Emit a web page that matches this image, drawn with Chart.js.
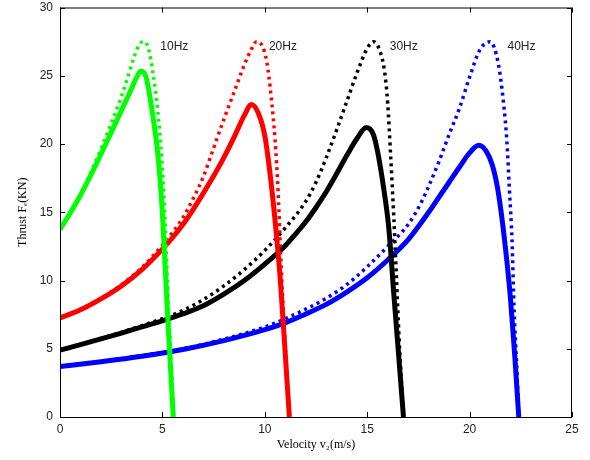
<!DOCTYPE html>
<html>
<head>
<meta charset="utf-8">
<script src="https://cdn.jsdelivr.net/npm/chart.js@4.4.1/dist/chart.umd.min.js"></script>
<style>
  html, body { margin: 0; padding: 0; background: #fff; }
</style>
</head>
<body>
<canvas id="thrust" width="590" height="460"></canvas>
<script>
// values (velocity m/s, thrust kN)
const x10 = [0, 0.5, 1, 1.5, 2, 2.5, 3, 3.4, 3.7, 3.95, 4.2, 4.48, 4.8, 5.0, 5.25, 5.53]
const y10 = [13.75, 14.95, 16.25, 17.7, 19.25, 20.85, 22.45, 23.75, 24.75, 25.35, 24.9, 22.6, 18.9, 14.9, 7.6, 0]
const x10d = [0, 0.5, 1, 1.5, 2, 2.5, 3, 3.3, 3.6, 3.85, 4.05, 4.3, 4.55, 4.76, 4.97, 5.1, 5.3, 5.55]
const y10d = [13.75, 15.0, 16.3, 17.9, 19.65, 21.5, 23.5, 24.85, 26.3, 27.2, 27.5, 27.1, 25.1, 22.6, 18.9, 15.3, 8.0, 0]

const x20 = [0, 1, 2, 3, 4, 5, 5.5, 6, 6.5, 7, 7.5, 8, 8.5, 9, 9.35, 9.7, 10, 10.25, 10.5, 10.75, 11.0, 11.2]
const y20 = [7.25, 7.85, 8.65, 9.6, 10.8, 12.3, 13.15, 14.1, 15.2, 16.4, 17.65, 19.0, 20.5, 22.1, 22.9, 22.2, 20.6, 17.9, 14.4, 10.2, 4.6, 0]
const x20d = [0, 1, 2, 3, 4, 5, 6, 6.5, 7, 7.5, 8, 8.5, 9, 9.3, 9.6, 9.9, 10.1, 10.3, 10.5, 10.65, 10.8, 11.0, 11.2]
const y20d = [7.25, 7.9, 8.7, 9.7, 10.95, 12.6, 14.6, 16.0, 17.6, 19.7, 21.8, 23.8, 25.8, 26.8, 27.5, 27.1, 26.0, 23.6, 20.3, 16.5, 11.0, 5.0, 0]

const x30 = [0, 1, 2, 3, 4, 5, 6, 7, 8, 9, 10, 11, 11.5, 12, 12.5, 13, 13.5, 14, 14.5, 14.95, 15.3, 15.5, 15.8, 16.05, 16.3, 16.5, 16.77]
const y30 = [4.9, 5.3, 5.72, 6.15, 6.6, 7.05, 7.55, 8.15, 9.0, 10.0, 11.2, 12.55, 13.4, 14.3, 15.35, 16.5, 17.8, 19.15, 20.4, 21.2, 20.7, 19.5, 16.8, 13.9, 9.0, 5.2, 0]
const x30d = [0, 2, 4, 6, 7, 8, 9, 10, 11, 12, 12.5, 13, 13.5, 14, 14.5, 15, 15.3, 15.6, 15.85, 16.0, 16.15, 16.3, 16.42, 16.55, 16.77]
const y30d = [4.9, 5.75, 6.7, 7.8, 8.6, 9.6, 10.8, 12.2, 13.85, 15.8, 17.2, 19.0, 21.0, 23.1, 25.2, 27.0, 27.5, 26.9, 25.3, 23.0, 19.0, 14.6, 10.5, 6.0, 0]

const x40 = [0, 2, 4, 6, 8, 10, 11, 12, 13, 14, 15, 16, 17, 18, 18.5, 19, 19.5, 20, 20.45, 20.8, 21.1, 21.35, 21.55, 21.75, 22.0, 22.2, 22.4]
const y40 = [3.7, 4.05, 4.45, 4.95, 5.6, 6.4, 6.9, 7.55, 8.25, 9.15, 10.2, 11.5, 13.0, 15.0, 16.1, 17.2, 18.3, 19.35, 19.9, 19.5, 18.5, 16.9, 14.9, 12.4, 8.6, 4.6, 0]
const x40d = [0, 2, 4, 6, 8, 10, 11, 12, 13, 14, 15, 16, 17, 17.6, 18, 18.5, 19, 19.5, 20, 20.5, 21.0, 21.4, 21.65, 21.82, 21.95, 22.07, 22.18, 22.3, 22.4]
const y40d = [3.7, 4.05, 4.5, 5.0, 5.7, 6.6, 7.2, 7.9, 8.7, 9.7, 11.0, 12.5, 14.1, 15.6, 16.9, 18.7, 20.7, 22.6, 24.9, 26.9, 27.5, 25.9, 23.1, 20.2, 16.5, 13.0, 7.6, 3.8, 0]

const freqLabels = ["10Hz", "20Hz", "30Hz", "40Hz"]
const freqLabelX = [4.9, 10.2, 16.1, 21.85]
const freqLabelY = [27.1, 27.1, 27.1, 27.1]

const xTickValues = [0, 5, 10, 15, 20, 25]
const yTickValues = [0, 5, 10, 15, 20, 25, 30]

const pts = (xs, ys) => xs.map((x, i) => ({ x: x, y: ys[i] }))

const solid = (xs, ys, color) => ({
  data: pts(xs, ys),
  borderColor: color,
  borderWidth: 5,
  pointRadius: 0,
  fill: false,
  cubicInterpolationMode: "monotone",
})

const dotted = (xs, ys, color) => ({
  data: pts(xs, ys),
  borderColor: color,
  borderWidth: 3.5,
  borderDash: [3, 4],
  borderCapStyle: "butt",
  pointRadius: 0,
  fill: false,
  cubicInterpolationMode: "monotone",
})

// box, inward ticks and the frequency labels
const framePlugin = {
  id: "frame",
  afterDraw(chart) {
    const { ctx, chartArea: a, scales } = chart
    const xs = scales.x
    const ys = scales.y
    ctx.save()
    ctx.strokeStyle = "#000"
    ctx.lineWidth = 1
    ctx.strokeRect(a.left + 0.5, a.top + 0.5, a.right - a.left - 1, a.bottom - a.top)
    ctx.beginPath()
    xTickValues.forEach((v) => {
      const px = Math.round(xs.getPixelForValue(v)) + 0.5
      ctx.moveTo(px, a.bottom)
      ctx.lineTo(px, a.bottom - 5)
      ctx.moveTo(px, a.top)
      ctx.lineTo(px, a.top + 5)
    })
    yTickValues.forEach((v) => {
      const py = Math.round(ys.getPixelForValue(v)) + 0.5
      ctx.moveTo(a.left, py)
      ctx.lineTo(a.left + 5, py)
      ctx.moveTo(a.right, py)
      ctx.lineTo(a.right - 5, py)
    })
    ctx.stroke()

    ctx.fillStyle = "#222"
    ctx.font = "12px 'Liberation Sans', Arial, sans-serif"
    ctx.textAlign = "left"
    ctx.textBaseline = "middle"
    freqLabels.forEach((t, i) => {
      ctx.fillText(t, xs.getPixelForValue(freqLabelX[i]), ys.getPixelForValue(freqLabelY[i]))
    })
    ctx.restore()
  },
}

const tickFont = { family: "'Liberation Sans', Arial, sans-serif", size: 12 }
const titleFont = { family: "'Liberation Serif', 'Times New Roman', serif", size: 12 }

new Chart(document.getElementById("thrust").getContext("2d"), {
  type: "line",
  data: {
    datasets: [
      solid(x10, y10, "#00ff00"),
      dotted(x10d, y10d, "#00ff00"),
      solid(x20, y20, "#ff0000"),
      dotted(x20d, y20d, "#ff0000"),
      solid(x30, y30, "#000000"),
      dotted(x30d, y30d, "#000000"),
      solid(x40, y40, "#0000ff"),
      dotted(x40d, y40d, "#0000ff"),
    ],
  },
  options: {
    responsive: false,
    animation: false,
    layout: { padding: { top: 7.5, right: 18, left: 0, bottom: 0 } },
    plugins: {
      legend: { display: false },
      tooltip: { enabled: false },
    },
    scales: {
      x: {
        type: "linear",
        min: 0,
        max: 25,
        grid: { display: false, drawTicks: false },
        border: { display: false },
        afterBuildTicks: (s) => { s.ticks = xTickValues.map((v) => ({ value: v })) },
        afterFit: (s) => {
          s.height = 43
          s.paddingLeft = 0
          s.paddingRight = 0
        },
        ticks: { font: tickFont, color: "#222", padding: 5, maxRotation: 0 },
        title: {
          display: true,
          text: "Velocity v\u2082(m/s)",
          font: titleFont,
          color: "#000",
          padding: { top: 0, bottom: 8 },
        },
      },
      y: {
        type: "linear",
        min: 0,
        max: 30,
        grid: { display: false, drawTicks: false },
        border: { display: false },
        afterBuildTicks: (s) => { s.ticks = yTickValues.map((v) => ({ value: v })) },
        afterFit: (s) => {
          s.width = 60
          s.paddingTop = 0
          s.paddingBottom = 0
        },
        ticks: { font: tickFont, color: "#222", padding: 7 },
        title: {
          display: true,
          text: "Thrust F\u2091(KN)",
          font: titleFont,
          color: "#000",
          padding: { top: 16, bottom: 0 },
        },
      },
    },
  },
  plugins: [framePlugin],
})
</script>
</body>
</html>
